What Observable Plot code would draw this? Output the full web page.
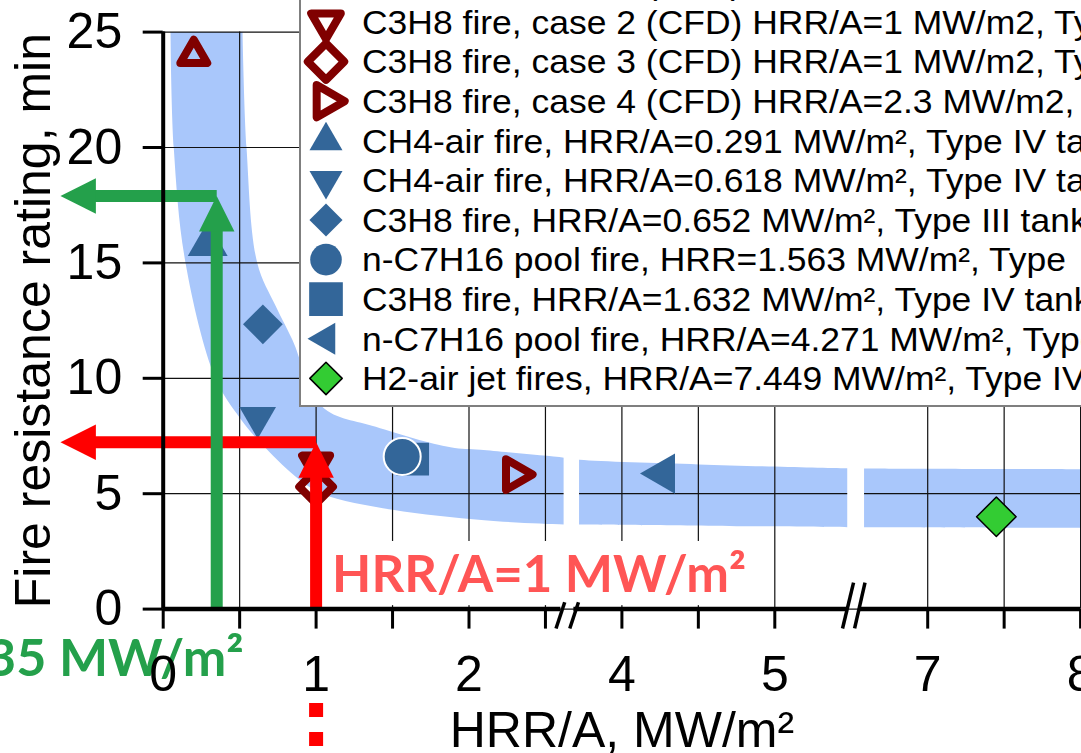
<!DOCTYPE html>
<html>
<head>
<meta charset="utf-8">
<script src="https://cdn.jsdelivr.net/npm/d3@7"></script>
<script src="https://cdn.jsdelivr.net/npm/@observablehq/plot@0.6"></script>
<style>
  html, body { margin: 0; padding: 0; overflow: hidden; background: #fff; }
  #chart { width: 1081px; height: 753px; overflow: hidden; }
</style>
</head>
<body>
<div id="chart"></div>
<script>
// Fire resistance rating of storage tanks versus heat release rate per unit area (HRR/A)

// ---- data -------------------------------------------------------------
const seriesLabels = [
  "C3H8 fire, case 1 (CFD) HRR/A=0.2 MW/m2, Type",
  "C3H8 fire, case 2 (CFD) HRR/A=1 MW/m2, Type",
  "C3H8 fire, case 3 (CFD) HRR/A=1 MW/m2, Type",
  "C3H8 fire, case 4 (CFD) HRR/A=2.3 MW/m2, Type",
  "CH4-air fire, HRR/A=0.291 MW/m², Type IV tank",
  "CH4-air fire, HRR/A=0.618 MW/m², Type IV tank",
  "C3H8 fire, HRR/A=0.652 MW/m², Type III tank",
  "n-C7H16 pool fire, HRR=1.563 MW/m², Type",
  "C3H8 fire, HRR/A=1.632 MW/m², Type IV tank",
  "n-C7H16 pool fire, HRR/A=4.271 MW/m², Type",
  "H2-air jet fires, HRR/A=7.449 MW/m², Type IV"
];
const hrrPerArea = [0.2, 1, 1, 2.3, 0.291, 0.618, 0.652, 1.563, 1.632, 4.271, 7.449];
const ratingMin  = [24, 6.3, 5.3, 5.83, 15.8, 8.3, 12.34, 6.61, 6.5, 5.87, 4.0];

// trend band (upper and lower edges)
const bandUpperX = [0.519, 0.545, 0.615, 0.734, 0.844, 1.04, 1.39, 1.879, 2.075, 2.622, 3.723, 4.504, 5.475, 6.587, 8];
const bandUpperY = [25, 20, 15, 13.15, 11.68, 8.77, 7.9, 7.01, 6.9, 6.56, 6.47, 6.27, 6.1, 6.09, 6.06];
const bandLowerX = [0.048, 0.069, 0.146, 0.342, 0.505, 0.636, 0.865, 1.04, 1.5, 2.1, 2.622, 3.723, 5.475, 6.587, 8];
const bandLowerY = [25, 20, 15, 10, 8.25, 7.22, 5.75, 5.0, 4.3, 3.85, 3.67, 3.67, 3.55, 3.55, 3.52];

// reading guides
const redHrr = 1, redRating = 7.23;
const greenHrr = 0.35, greenRating = 17.9;
const guideTipX = -0.672;

// axis
const xSegments = [[0, 2.656], [3.656, 5.52], [6.52, 8]];   // broken HRR/A axis
const xTicks = [0, 0.5, 1, 1.5, 2, 2.5, 4, 4.5, 5, 7, 7.5, 8];
const yTicks = [0, 5, 10, 15, 20, 25];

// ---- styles -----------------------------------------------------------
const DARK_RED = "#800000", BLUE = "#336699", LIME = "#33cc33";
const markerStyles = [
  {symbol: "triangle", rotate: 0,   open: true, r: 10,   lr: 10},
  {symbol: "triangle", rotate: 180, open: true, r: 10.4, lr: 11},
  {symbol: "diamond2", rotate: 0,   open: true, r: 15.2, lr: 16.4},
  {symbol: "triangle", rotate: 90,  open: true, r: 11.4, lr: 12},
  {symbol: "triangle", rotate: 0,   fill: BLUE, r: 14.8, lr: 12.25},
  {symbol: "triangle", rotate: 180, fill: BLUE, r: 13.6, lr: 12.25},
  {symbol: "diamond2", rotate: 0,   fill: BLUE, r: 17.9, lr: 14.9},
  {symbol: "circle",   rotate: 0,   fill: BLUE, stroke: "#fff", strokeWidth: 2, r: 18.5, lr: 15.8},
  {symbol: "square",   rotate: 0,   fill: BLUE, r: 18.4, lr: 19},
  {symbol: "triangle", rotate: -90, fill: BLUE, r: 15, lr: 11.9},
  {symbol: "diamond2", rotate: 0,   fill: LIME, stroke: "#000", strokeWidth: 1.5, r: 17.8, lr: 14.6}
];
const drawOrder = [0, 4, 6, 5, 1, 2, 8, 7, 3, 9, 10]; // square sits behind the circle

// solid arrowhead with its tip at the origin, pointing up
const arrowHead = {
  draw(context, size) {
    const s = Math.sqrt(size);
    context.moveTo(0, 0);
    context.lineTo(s / 2, s);
    context.lineTo(-s / 2, s);
    context.closePath();
  }
};

// ---- scales -----------------------------------------------------------
const pxPerUnit = 152.9, plotLeft = 162.7;
const xDomain = xSegments.flat();
const xRange = [];
{
  let px = plotLeft;
  for (const [a, b] of xSegments) { xRange.push(px); px += (b - a) * pxPerUnit; xRange.push(px); }
}

// closed outline of the band; the right-hand corners are doubled so the
// smoothed outline keeps a square end at the frame edge
const upperPts = bandUpperX.map((x, i) => ({x, y: bandUpperY[i]}));
const lowerPts = bandLowerX.map((x, i) => ({x, y: bandLowerY[i]})).reverse();
const bandOutline = [
  ...upperPts, upperPts[upperPts.length - 1],
  lowerPts[0], ...lowerPts
];

// white cuts through band and grid at the axis breaks
const breakCuts = [
  {x1: xSegments[0][1] - 0.034, x2: xSegments[1][0] + 0.067},
  {x1: xSegments[1][1] - 0.043, x2: xSegments[2][0] + 0.067}
];
// axis line pieces between the break marks
const axisPieces = [
  {x1: 0, x2: xSegments[0][1] - 0.055},
  {x1: xSegments[1][0] + 0.03, x2: xSegments[1][1] - 0.04},
  {x1: xSegments[2][0] + 0.035, x2: 8}
];
// "//" break marks
const breakMarks = [
  {x1: xSegments[0][1] - 0.087, y1: -0.84, x2: xSegments[0][1] - 0.03, y2: 0.3},
  {x1: xSegments[1][0] + 0.003, y1: -0.84, x2: xSegments[1][0] + 0.06, y2: 0.3},
  {x1: xSegments[1][1] - 0.077, y1: -0.84, x2: xSegments[1][1] - 0.005, y2: 1.15},
  {x1: xSegments[2][0] + 0.002, y1: -0.84, x2: xSegments[2][0] + 0.07, y2: 1.15}
];

const headX = 35.4 / pxPerUnit; // arrowhead length in x units
const headY = 35.4 / 23.08;     // arrowhead length in y units

function guide(hrr, rating) {
  return {
    shafts: [
      {x1: hrr, y1: 0, x2: hrr, y2: rating - headY * 0.5},
      {x1: hrr, y1: rating, x2: guideTipX + headX * 0.6, y2: rating}
    ],
    heads: [
      {x: hrr, y: rating, rotate: 0},
      {x: guideTipX, y: rating, rotate: -90}
    ]
  };
}
const redGuide = guide(redHrr, redRating);
const greenGuide = guide(greenHrr, greenRating);
const RED = "#ff0000", GREEN = "#24a04b", LABEL_RED = "#ff5555";

const markerMarks = drawOrder.map(i => {
  const s = markerStyles[i];
  return Plot.dot([i], {
    x: d => hrrPerArea[d], y: d => ratingMin[d],
    symbol: s.symbol, r: s.r, rotate: s.rotate,
    fill: s.open ? "none" : s.fill,
    stroke: s.open ? DARK_RED : (s.stroke || "none"),
    strokeWidth: s.open ? 8 : (s.strokeWidth || 0),
    strokeLinejoin: "round"
  });
});

const guideMarks = (g, color) => [
  Plot.link(g.shafts, {x1: "x1", y1: "y1", x2: "x2", y2: "y2", stroke: color, strokeWidth: 12}),
  ...g.heads.map(h => Plot.dot([h], {x: "x", y: "y", symbol: arrowHead, r: 20, rotate: h.rotate, fill: color, stroke: "none"}))
];

const FONT = "'Liberation Sans', Arial, Helvetica, sans-serif";

const svg = Plot.plot({
  width: 1081,
  height: 753,
  marginTop: 31.6,
  marginBottom: 144.4,
  marginLeft: plotLeft,
  marginRight: 0.9,
  style: {fontFamily: FONT, fontSize: "50px", background: "#fff", color: "#000", overflow: "hidden"},
  x: {type: "linear", domain: xDomain, range: xRange, axis: null},
  y: {domain: [0, 25], range: [608.6, 31.6], axis: null},
  marks: [
    Plot.line(bandOutline, {x: "x", y: "y", fill: "#a9c7fb", stroke: "none", curve: "catmull-rom"}),
    Plot.ruleX(xTicks, {y1: () => 0, y2: () => 25, stroke: "#111", strokeWidth: 1.2}),
    Plot.ruleY(yTicks, {x1: () => 0, x2: () => 8, stroke: "#111", strokeWidth: 1.2}),
    Plot.rect(breakCuts, {x1: "x1", x2: "x2", y1: () => 0.3, y2: () => 8.8, fill: "#fff"}),
    // backdrop behind the HRR/A = 1 label
    Plot.rect([redHrr], {x1: d => d + 0.1, x2: () => 4.87, y1: () => 0.15, y2: () => 2.93, fill: "#fff"}),
    ...markerMarks,
    ...guideMarks(redGuide, RED),
    ...guideMarks(greenGuide, GREEN),
    Plot.ruleX([redHrr], {x: d => d, y1: () => -4.09, y2: () => -6.0, stroke: RED, strokeWidth: 14, strokeDasharray: "14 15"}),
    Plot.text([`HRR/A=${redHrr} MW/m²`], {
      x: () => redHrr, y: () => 0, textAnchor: "start", lineAnchor: "bottom", dx: 16, dy: -17.6,
      fontSize: 51, fontWeight: "bold", fontFamily: "Lato, 'Open Sans', sans-serif", fill: LABEL_RED
    }),
    Plot.text([`HRR/A=${greenHrr} MW/m²`], {
      x: () => greenHrr, y: () => 0, textAnchor: "end", lineAnchor: "bottom", dx: 27, dy: 66.4,
      fontSize: 52, fontWeight: "bold", fontFamily: "Lato, 'Open Sans', sans-serif", fill: GREEN
    }),
    // axis lines and break marks
    Plot.ruleX([0], {y1: () => 0, y2: () => 25, stroke: "#000", strokeWidth: 4}),
    Plot.ruleY(axisPieces, {y: () => 0, x1: "x1", x2: "x2", stroke: "#000", strokeWidth: 4.5}),
    Plot.link(breakMarks, {x1: "x1", y1: "y1", x2: "x2", y2: "y2", stroke: "#000", strokeWidth: 3.5}),
    Plot.axisX({
      ticks: xTicks, tickFormat: d => Number.isInteger(d) ? String(d) : "",
      tickSize: 20, tickPadding: 26, strokeWidth: 3, fontSize: 50, label: null, anchor: "bottom"
    }),
    Plot.axisY({
      ticks: yTicks, tickSize: 20, tickPadding: 21, strokeWidth: 3, fontSize: 50, label: null, anchor: "left"
    }),
    Plot.text(["Fire resistance rating, min"], {
      frameAnchor: "left", rotate: -90, textAnchor: "middle", lineAnchor: "bottom", dx: -113.4, fontSize: 50
    }),
    Plot.text(["HRR/A, MW/m²"], {
      frameAnchor: "bottom", textAnchor: "middle", lineAnchor: "bottom", dy: 138, fontSize: 50
    })
  ]
});

// ---- legend (inside the plot area, top right) -----------------------
const symbolTypes = {triangle: d3.symbolTriangle, diamond2: d3.symbolDiamond2, circle: d3.symbolCircle, square: d3.symbolSquare};
const legend = d3.select(svg).append("g")
  .attr("font-family", FONT)
  .attr("font-size", 33)
  .attr("text-anchor", "start");
legend.append("rect")
  .attr("x", 300).attr("y", -60).attr("width", 900).attr("height", 466)
  .attr("fill", "#fff").attr("stroke", "#7f7f7f").attr("stroke-width", 2);
seriesLabels.forEach((label, i) => {
  const s = markerStyles[i];
  const cy = 22 + 39.6 * (i - 1);
  legend.append("path")
    .attr("d", d3.symbol(symbolTypes[s.symbol], Math.PI * s.lr * s.lr)())
    .attr("transform", `translate(326,${cy}) rotate(${s.rotate})`)
    .attr("fill", s.open ? "none" : s.fill)
    .attr("stroke", s.open ? DARK_RED : (s.stroke === "#000" ? "#000" : "none"))
    .attr("stroke-width", s.open ? 8 : 1.5)
    .attr("stroke-linejoin", "round");
  legend.append("text")
    .attr("transform", `translate(362,${cy}) scale(1.075,1)`)
    .attr("dy", "0.36em")
    .text(label);
});

document.getElementById("chart").appendChild(svg);
</script>
</body>
</html>
